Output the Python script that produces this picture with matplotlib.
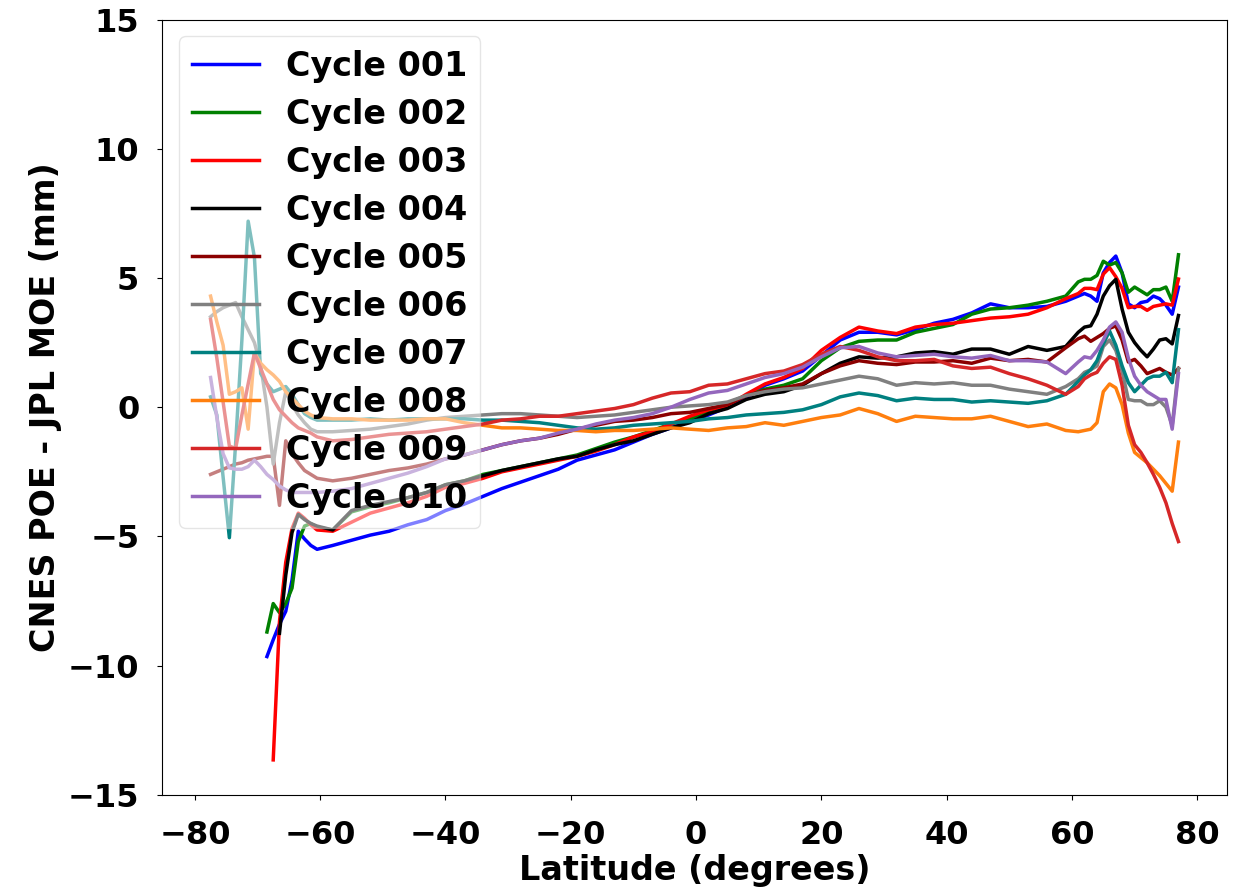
import matplotlib
matplotlib.use("Agg")
import matplotlib.pyplot as plt
import numpy as np

nan = np.nan

# latitude grid (degrees): fine steps near the poles, 3 deg in between
lat_south = [-77.5, -76.5, -75.5, -74.5, -73.5, -72.5, -71.5, -70.5, -69.5,
             -68.5, -67.5, -66.5, -65.5, -64.5, -63.5, -62.5, -61.5, -60.5]
lat_mid = [-58, -55, -52, -49, -46, -43, -40, -37, -34, -31, -28, -25, -22,
           -19, -16, -13, -10, -7, -4, -1, 2, 5, 8, 11, 14, 17, 20, 23, 26,
           29, 32, 35, 38, 41, 44, 47, 50, 53, 56, 59]
lat_north = [61, 62, 63, 64, 65, 66, 67, 68, 69, 70, 71, 72, 73, 74, 75, 76, 77]
latitude = lat_south + lat_mid + lat_north

labels = ["Cycle 001", "Cycle 002", "Cycle 003", "Cycle 004", "Cycle 005",
          "Cycle 006", "Cycle 007", "Cycle 008", "Cycle 009", "Cycle 010"]
colors = ["blue", "green", "red", "black", "darkred",
          "gray", "teal", "tab:orange", "tab:red", "tab:purple"]

# CNES POE - JPL MOE (mm)
cycle_001 = (
    [nan] * 9 + [-9.65, -9.0, -8.4, -7.9, -6.7, -4.8, -5.1, -5.35, -5.5]
    + [-5.35, -5.15, -4.95, -4.8, -4.55, -4.35, -4.0, -3.75, -3.45, -3.15,
       -2.9, -2.65, -2.4, -2.05, -1.85, -1.65, -1.35, -1.05, -0.8, -0.55,
       -0.3, 0.0, 0.35, 0.85, 1.1, 1.4, 2.0, 2.6, 2.9, 2.9,
       2.8, 3.0, 3.25, 3.4, 3.65, 4.0, 3.85, 3.85, 3.9, 4.1]
    + [4.3, 4.4, 4.3, 4.1, 5.2, 5.6, 5.85, 5.2, 4.0, 3.85, 4.05, 4.1, 4.3,
       4.2, 3.95, 3.6, 4.65]
)
cycle_002 = (
    [nan] * 9 + [-8.7, -7.6, -7.95, -7.6, -7.0, -5.2, -4.6, -4.5, -4.65]
    + [-4.75, -4.05, -3.85, -3.7, -3.5, -3.3, -3.0, -2.85, -2.6, -2.45,
       -2.3, -2.15, -2.0, -1.85, -1.6, -1.35, -1.15, -0.9, -0.65, -0.45,
       -0.15, 0.15, 0.45, 0.7, 0.85, 1.1, 1.8, 2.3, 2.55, 2.6,
       2.6, 2.9, 3.05, 3.2, 3.6, 3.8, 3.85, 3.95, 4.1, 4.3]
    + [4.85, 4.95, 4.95, 5.1, 5.65, 5.5, 5.6, 5.2, 4.45, 4.65, 4.5, 4.35,
       4.55, 4.55, 4.65, 4.1, 5.9]
)
cycle_003 = (
    [nan] * 10 + [-13.65, -8.3, -6.0, -4.7, -4.1, -4.3, -4.55, -4.75]
    + [-4.8, -4.45, -4.1, -3.9, -3.7, -3.45, -3.1, -2.95, -2.75, -2.5,
       -2.35, -2.2, -2.05, -1.9, -1.7, -1.45, -1.15, -0.95, -0.65, -0.35,
       -0.1, 0.05, 0.5, 0.9, 1.15, 1.5, 2.2, 2.7, 3.1, 2.95,
       2.85, 3.1, 3.2, 3.25, 3.35, 3.45, 3.5, 3.6, 3.85, 4.2]
    + [4.4, 4.6, 4.6, 4.55, 5.15, 5.4, 5.05, 4.6, 3.85, 3.9, 3.9, 3.75,
       3.9, 3.95, 4.0, 3.95, 4.96]
)
cycle_004 = (
    [nan] * 11 + [-8.75, -6.5, -4.85, -4.15, -4.35, -4.5, -4.6]
    + [-4.75, -4.0, -3.8, -3.65, -3.5, -3.3, -3.0, -2.85, -2.65, -2.45,
       -2.3, -2.15, -2.0, -1.9, -1.65, -1.45, -1.3, -1.05, -0.8, -0.6,
       -0.25, -0.05, 0.3, 0.5, 0.6, 0.85, 1.3, 1.7, 1.95, 1.9,
       1.95, 2.1, 2.15, 2.05, 2.25, 2.25, 2.05, 2.35, 2.2, 2.35]
    + [2.9, 3.1, 3.15, 3.6, 4.3, 4.7, 4.95, 3.8, 2.9, 2.5, 2.2, 1.95, 2.25,
       2.6, 2.65, 2.45, 3.55]
)
cycle_005 = (
    [-2.6, -2.5, -2.4, -2.3, -2.2, -2.15, -2.05, -2.0, -1.95, -1.9, -1.9,
     -3.8, -1.3, -1.8, -2.15, -2.45, -2.6, -2.75]
    + [-2.85, -2.75, -2.6, -2.45, -2.35, -2.2, -2.0, -1.85, -1.65, -1.45,
       -1.3, -1.2, -1.05, -0.85, -0.7, -0.55, -0.5, -0.4, -0.25, -0.2,
       -0.05, 0.1, 0.45, 0.65, 0.75, 0.9, 1.3, 1.6, 1.8, 1.7,
       1.65, 1.75, 1.75, 1.8, 1.7, 1.9, 1.8, 1.85, 1.75, 2.3]
    + [2.65, 2.75, 2.55, 2.7, 2.85, 3.05, 3.15, 2.6, 1.75, 1.85, 1.6, 1.3,
       1.4, 1.5, 1.35, 1.25, 1.5]
)
cycle_006 = (
    [3.5, 3.7, 3.85, 3.95, 4.05, 3.5, 3.0, 2.5, 1.6, 0.0, -2.2, -0.6, 0.6,
     0.1, -0.3, -0.6, -0.85, -0.95]
    + [-0.95, -0.9, -0.85, -0.75, -0.65, -0.5, -0.4, -0.35, -0.3, -0.25,
       -0.25, -0.3, -0.35, -0.4, -0.35, -0.3, -0.2, -0.1, 0.0, 0.05,
       0.1, 0.2, 0.45, 0.6, 0.7, 0.75, 0.9, 1.05, 1.2, 1.1,
       0.85, 0.95, 0.9, 0.95, 0.85, 0.85, 0.7, 0.6, 0.5, 0.8]
    + [1.1, 1.35, 1.45, 1.6, 2.35, 2.6, 2.2, 1.4, 0.3, 0.25, 0.25, 0.1, 0.1,
       0.25, 0.0, -0.7, 1.5]
)
cycle_007 = (
    [0.4, -0.3, -2.7, -5.05, -1.4, 2.6, 7.2, 5.8, 1.3, 0.9, 0.6, 0.7, 0.8,
     0.5, 0.1, -0.25, -0.4, -0.5]
    + [-0.5, -0.5, -0.45, -0.5, -0.45, -0.45, -0.45, -0.45, -0.5, -0.5,
       -0.55, -0.6, -0.7, -0.8, -0.85, -0.8, -0.7, -0.65, -0.6, -0.55,
       -0.45, -0.4, -0.3, -0.25, -0.2, -0.1, 0.1, 0.4, 0.55, 0.45,
       0.25, 0.35, 0.3, 0.3, 0.2, 0.25, 0.2, 0.15, 0.25, 0.5]
    + [1.0, 1.25, 1.45, 1.8, 2.45, 2.95, 2.4, 1.6, 0.95, 0.6, 0.85, 1.1,
       1.2, 1.2, 1.35, 0.95, 3.0]
)
cycle_008 = (
    [4.3, 3.3, 2.4, 0.5, 0.6, 0.75, -0.85, 2.1, 1.7, 1.45, 1.25, 1.0, 0.6,
     0.35, 0.1, -0.15, -0.3, -0.4]
    + [-0.45, -0.45, -0.5, -0.5, -0.5, -0.45, -0.45, -0.6, -0.7, -0.8,
       -0.8, -0.85, -0.9, -0.9, -0.95, -0.9, -0.9, -0.85, -0.8, -0.85,
       -0.9, -0.8, -0.75, -0.6, -0.7, -0.55, -0.4, -0.3, -0.05, -0.25,
       -0.55, -0.35, -0.4, -0.45, -0.45, -0.35, -0.55, -0.75, -0.65, -0.9]
    + [-0.95, -0.9, -0.85, -0.6, 0.6, 0.9, 0.75, 0.1, -1.0, -1.75, -1.95,
       -2.15, -2.4, -2.65, -2.95, -3.25, -1.35]
)
cycle_009 = (
    [3.4, 1.9, 0.2, -1.5, -1.6, -0.3, 0.9, 2.1, 1.5, 0.9, 0.3, -0.1, -0.35,
     -0.6, -0.8, -0.9, -1.0, -1.15]
    + [-1.3, -1.25, -1.15, -1.05, -1.0, -0.95, -0.85, -0.75, -0.65, -0.5,
       -0.45, -0.35, -0.35, -0.25, -0.15, -0.05, 0.1, 0.35, 0.55, 0.6,
       0.85, 0.9, 1.1, 1.3, 1.4, 1.65, 2.05, 2.35, 2.2, 1.95,
       1.8, 1.8, 1.85, 1.6, 1.5, 1.55, 1.3, 1.1, 0.85, 0.5]
    + [0.8, 1.1, 1.25, 1.35, 1.7, 1.95, 1.85, 0.85, -0.7, -1.45, -1.75,
       -2.15, -2.6, -3.1, -3.7, -4.5, -5.2]
)
cycle_010 = (
    [1.15, -0.4, -1.8, -2.35, -2.4, -2.4, -2.3, -2.05, -2.3, -2.6, -2.8,
     -3.05, -3.2, -3.3, -3.3, -3.3, -3.3, -3.3]
    + [-3.25, -3.15, -2.95, -2.75, -2.55, -2.3, -2.0, -1.85, -1.65, -1.45,
       -1.3, -1.2, -1.0, -0.85, -0.65, -0.5, -0.4, -0.25, 0.0, 0.3,
       0.55, 0.65, 0.9, 1.15, 1.3, 1.55, 1.95, 2.3, 2.35, 2.1,
       1.95, 2.0, 2.05, 1.95, 1.9, 2.0, 1.8, 1.8, 1.75, 1.3]
    + [1.75, 1.95, 1.9, 2.2, 2.6, 3.1, 3.3, 2.9, 1.9, 1.2, 0.85, 0.6, 0.45,
       0.3, 0.3, -0.85, 1.3]
)

cycles = [cycle_001, cycle_002, cycle_003, cycle_004, cycle_005,
          cycle_006, cycle_007, cycle_008, cycle_009, cycle_010]

plt.rcParams["font.weight"] = "bold"
plt.rcParams["axes.labelweight"] = "bold"

fig = plt.figure(figsize=(12.38, 8.93), dpi=100)
ax = fig.add_axes([0.131, 0.110, 0.860, 0.868])

for values, color, label in zip(cycles, colors, labels):
    ax.plot(latitude, values, color=color, lw=2.5, label=label)

ax.set_ylim(-15, 15)
ax.set_yticks([-15, -10, -5, 0, 5, 10, 15])
ax.set_xticks([-80, -60, -40, -20, 0, 20, 40, 60, 80])
ax.tick_params(labelsize=23)
ax.tick_params(axis="x", pad=15)
ax.tick_params(axis="y", pad=13)
ax.set_xlabel("Latitude (degrees)", fontsize=24, labelpad=2)
ax.set_ylabel("CNES POE - JPL MOE (mm)", fontsize=24)
ax.legend(loc="upper left", fontsize=24, framealpha=0.5, labelspacing=0.45)

fig.savefig("out.png", dpi=100)
